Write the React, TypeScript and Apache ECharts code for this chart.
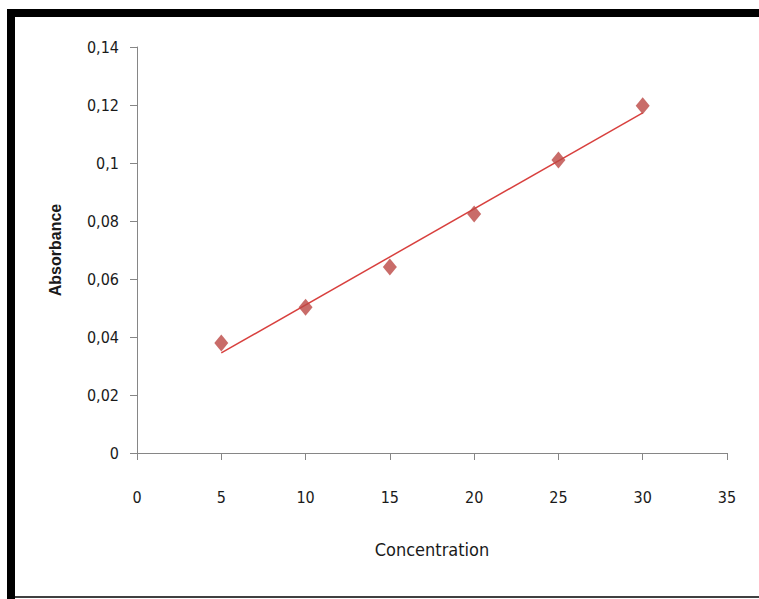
import React, { useEffect, useRef } from "react";
import * as echarts from "echarts";

const concentrations = [5, 10, 15, 20, 25, 30];
const absorbances = [0.0379, 0.0503, 0.0641, 0.0824, 0.101, 0.1197];
const xTicks = [0, 5, 10, 15, 20, 25, 30, 35];
const yTicks = [0, 0.02, 0.04, 0.06, 0.08, 0.1, 0.12, 0.14];

function fit(xs: number[], ys: number[]) {
  const n = xs.length;
  const mx = xs.reduce((a, b) => a + b, 0) / n;
  const my = ys.reduce((a, b) => a + b, 0) / n;
  let sxy = 0, sxx = 0;
  for (let i = 0; i < n; i++) {
    sxy += (xs[i] - mx) * (ys[i] - my);
    sxx += (xs[i] - mx) * (xs[i] - mx);
  }
  const b = sxy / sxx;
  return { a: my - b * mx, b };
}

export default function App() {
  const ref = useRef<HTMLDivElement>(null);
  useEffect(() => {
    if (!ref.current) return;
    const chart = echarts.init(ref.current, null, { renderer: "svg" });
    const { a, b } = fit(concentrations, absorbances);
    const x0 = concentrations[0];
    const x1 = concentrations[concentrations.length - 1];
    const axisColor = "#868686";
    const labelStyle = {
      color: "#1a1a1a",
      fontFamily: "DejaVu Sans Condensed, Liberation Sans",
      fontSize: 16,
    };
    chart.setOption({
      animation: false,
      backgroundColor: "#ffffff",
      grid: { left: 137, top: 47, width: 590, height: 406, containLabel: false },
      xAxis: {
        type: "value",
        min: xTicks[0],
        max: xTicks[xTicks.length - 1],
        interval: 5,
        name: "Concentration",
        nameLocation: "middle",
        nameGap: 87,
        nameTextStyle: { color: "#1a1a1a", fontFamily: "DejaVu Sans Condensed, Liberation Sans", fontSize: 18 },
        axisLine: { show: true, lineStyle: { color: axisColor, width: 1 } },
        axisTick: { show: true, inside: false, length: 7, lineStyle: { color: axisColor } },
        axisLabel: { ...labelStyle, margin: 36, formatter: (v: number) => String(v) },
        splitLine: { show: false },
      },
      yAxis: {
        type: "value",
        min: yTicks[0],
        max: yTicks[yTicks.length - 1],
        interval: 0.02,
        name: "Absorbance",
        nameLocation: "middle",
        nameGap: 74,
        nameRotate: 90,
        nameTextStyle: {
          color: "#1a1a1a",
          fontFamily: "Liberation Sans",
          fontSize: 16,
          fontWeight: "bold",
        },
        axisLine: { show: true, lineStyle: { color: axisColor, width: 1 } },
        axisTick: { show: true, inside: false, length: 7, lineStyle: { color: axisColor } },
        axisLabel: {
          ...labelStyle,
          margin: 18,
          formatter: (v: number) => (v === 0 ? "0" : String(parseFloat(v.toFixed(2))).replace(".", ",")),
        },
        splitLine: { show: false },
      },
      graphic: [
        { type: "rect", shape: { x: 7, y: 9, width: 752, height: 8 }, style: { fill: "#000" } },
        { type: "rect", shape: { x: 7, y: 9, width: 8, height: 590 }, style: { fill: "#000" } },
        { type: "rect", shape: { x: 15, y: 596, width: 744, height: 2 }, style: { fill: "#404040" } },
      ],
      series: [
        {
          type: "line",
          data: [
            [x0, a + b * x0],
            [x1, a + b * x1],
          ],
          showSymbol: false,
          symbol: "none",
          lineStyle: { color: "#d8403e", width: 1.5 },
          z: 2,
        },
        {
          type: "scatter",
          data: concentrations.map((c, i) => [c, absorbances[i]]),
          symbol: "diamond",
          symbolSize: [14, 17],
          itemStyle: { color: "#bb4744" },
          z: 3,
        },
      ],
    });
    return () => chart.dispose();
  }, []);
  return (
    <div
      ref={ref}
      style={{ position: "fixed", left: 0, top: 0, width: 759, height: 599 }}
    />
  );
}
